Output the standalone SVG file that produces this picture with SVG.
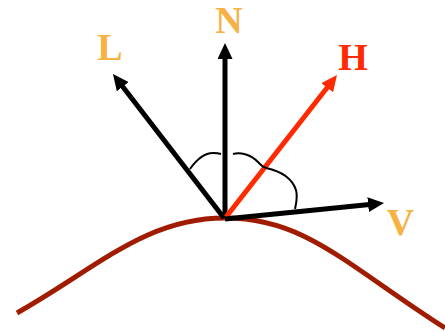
<svg xmlns="http://www.w3.org/2000/svg" width="445" height="332" viewBox="0 0 445 332">
<style>
.lbl{font-family:"Liberation Serif","Times New Roman",serif;font-weight:bold;font-size:38px;text-anchor:middle}
.orange{fill:#F6B245}
.red{fill:#FF2A00}
.vec{stroke:#000;stroke-width:5;fill:none;stroke-linecap:butt}
.hvec{stroke:#FF2A00;stroke-width:5;fill:none}
.arc{stroke:#000;stroke-width:2;fill:none}
</style>
<defs>
<marker id="ah" markerUnits="userSpaceOnUse" markerWidth="16" markerHeight="15" refX="4" refY="7.5" orient="auto" viewBox="0 0 16 15">
<path d="M0,0 L16,7.5 L0,15 z" fill="#000"/>
</marker>
<marker id="ahr" markerUnits="userSpaceOnUse" markerWidth="16" markerHeight="15" refX="4" refY="7.5" orient="auto" viewBox="0 0 16 15">
<path d="M0,0 L16,7.5 L0,15 z" fill="#FF2A00"/>
</marker>
</defs>
<g id="surface">
<path d="M17,313 C97,268 145,218 225,218 C305,218 345,264 445,328" stroke="#A01C00" stroke-width="5" fill="none"/>
</g>
<g id="connectors">
<line class="vec" x1="224" y1="218" x2="120.3" y2="83.5" marker-end="url(#ah)"/>
<line class="vec" x1="225" y1="218" x2="225" y2="55" marker-end="url(#ah)"/>
<line class="hvec" x1="226" y1="217" x2="329.6" y2="84.5" marker-end="url(#ahr)"/>
<line class="vec" x1="225" y1="219" x2="372.1" y2="204.2" marker-end="url(#ah)"/>
<path class="arc" d="M190,169 C197,159 205,153 213,153 Q218,153 221,154"/>
<path class="arc" d="M233,154 C240,152 250,154 258,162 C261,165 262,167 266,168 C280,171 292,178 296,190 C298,197 296,204 295,209"/>
</g>
<g id="L"><text class="lbl orange" x="110" y="60">L</text></g>
<g id="N"><text class="lbl orange" x="229" y="33">N</text></g>
<g id="H"><text class="lbl red" x="353" y="70">H</text></g>
<g id="V"><text class="lbl orange" x="400.5" y="235">V</text></g>
</svg>
